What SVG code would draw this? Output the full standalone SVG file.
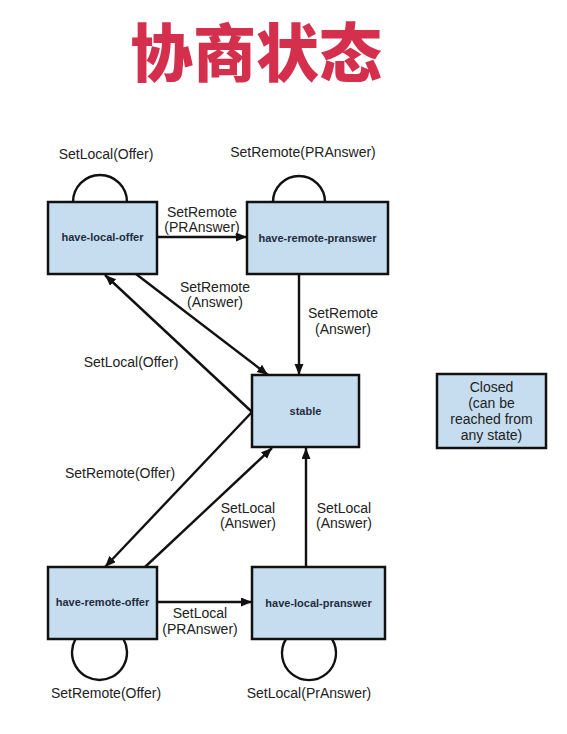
<svg xmlns="http://www.w3.org/2000/svg" width="567" height="734" viewBox="0 0 567 734">
<style>
.box{fill:#c6ddf0;stroke:#111;stroke-width:2.5}
.bt{font-family:"Liberation Sans",Arial,sans-serif;font-size:11px;font-weight:bold;fill:#1f2d3d;text-anchor:middle}
.lb{font-family:"Liberation Sans",Arial,sans-serif;font-size:14px;fill:#222;text-anchor:middle}
.ed{fill:none;stroke:#111;stroke-width:2.4}
.title{font-family:"Noto Sans CJK SC","Noto Sans CJK JP",sans-serif;font-size:63px;font-weight:900;fill:#d42f4c;text-anchor:middle}
</style>
<defs>
<marker id="ah" markerUnits="userSpaceOnUse" markerWidth="12" markerHeight="10" refX="11" refY="4.5" orient="auto">
<path d="M0,0 L11,4.5 L0,9 z" fill="#111"/>
</marker>
</defs>
<rect width="567" height="734" fill="#ffffff"/>
<text class="title" x="256" y="76">协商状态</text>

<g id="connectors">
<path class="ed" d="M157,237 L247,237" marker-end="url(#ah)"/>
<path class="ed" d="M299,274 L299,375" marker-end="url(#ah)"/>
<path class="ed" d="M136,274 L268,375" marker-end="url(#ah)"/>
<path class="ed" d="M252,412 L105,275" marker-end="url(#ah)"/>
<path class="ed" d="M252,412 L105,567" marker-end="url(#ah)"/>
<path class="ed" d="M145,567 L272,448" marker-end="url(#ah)"/>
<path class="ed" d="M306,567 L306,448" marker-end="url(#ah)"/>
<path class="ed" d="M157,602 L252,602" marker-end="url(#ah)"/>
<path class="ed" d="M73,202 A27,27 0 1 1 127,202"/>
<path class="ed" d="M273,202 A26,26 0 1 1 325,202"/>
<path class="ed" d="M75.5,639 A27.5,27.5 0 1 0 123.5,639"/>
<path class="ed" d="M286,639 A27,27 0 1 0 332,639"/>
</g>

<g id="edge-labels">
<text class="lb" x="106" y="159">SetLocal(Offer)</text>
<text class="lb" x="303" y="157">SetRemote(PRAnswer)</text>
<text class="lb" x="202" y="217">SetRemote</text>
<text class="lb" x="202" y="232">(PRAnswer)</text>
<text class="lb" x="215" y="292">SetRemote</text>
<text class="lb" x="215" y="307">(Answer)</text>
<text class="lb" x="343" y="318">SetRemote</text>
<text class="lb" x="343" y="334">(Answer)</text>
<text class="lb" x="131" y="367">SetLocal(Offer)</text>
<text class="lb" x="120" y="478">SetRemote(Offer)</text>
<text class="lb" x="248" y="513">SetLocal</text>
<text class="lb" x="248" y="528">(Answer)</text>
<text class="lb" x="344" y="513">SetLocal</text>
<text class="lb" x="344" y="528">(Answer)</text>
<text class="lb" x="200" y="618">SetLocal</text>
<text class="lb" x="200" y="634">(PRAnswer)</text>
<text class="lb" x="106" y="698">SetRemote(Offer)</text>
<text class="lb" x="309" y="698">SetLocal(PrAnswer)</text>
</g>

<g id="have-local-offer">
<rect class="box" x="48" y="202" width="109" height="72"/>
<text class="bt" x="102.5" y="241">have-local-offer</text>
</g>
<g id="have-remote-pranswer">
<rect class="box" x="247" y="202" width="141" height="72"/>
<text class="bt" x="317.5" y="242">have-remote-pranswer</text>
</g>
<g id="stable">
<rect class="box" x="252" y="375" width="107" height="72"/>
<text class="bt" x="305.5" y="415">stable</text>
</g>
<g id="closed">
<rect class="box" x="437" y="374" width="109" height="74"/>
<text class="lb" x="491.5" y="392">Closed</text>
<text class="lb" x="491.5" y="408">(can be</text>
<text class="lb" x="491.5" y="424">reached from</text>
<text class="lb" x="491.5" y="440">any state)</text>
</g>
<g id="have-remote-offer">
<rect class="box" x="48" y="567" width="109" height="72"/>
<text class="bt" x="102.5" y="606">have-remote-offer</text>
</g>
<g id="have-local-pranswer">
<rect class="box" x="252" y="567" width="133" height="72"/>
<text class="bt" x="318.5" y="607">have-local-pranswer</text>
</g>
</svg>
